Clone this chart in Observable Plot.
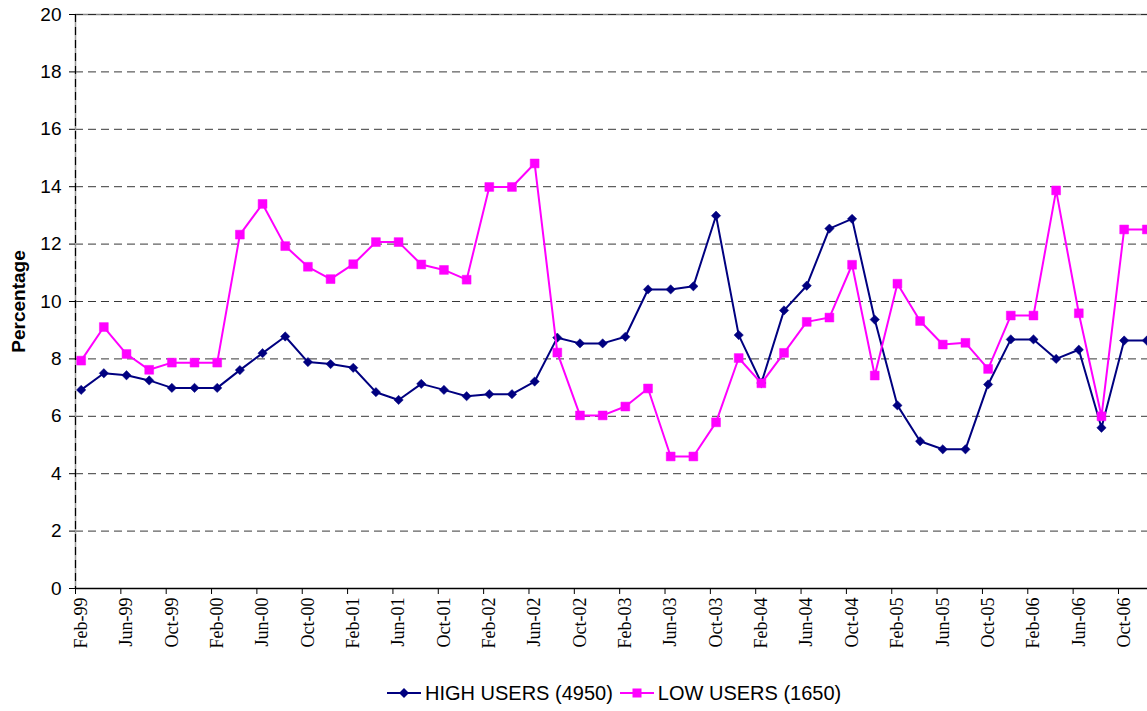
<!DOCTYPE html>
<html>
<head>
<meta charset="utf-8">
<script src="https://cdn.jsdelivr.net/npm/d3@7"></script>
<script src="https://cdn.jsdelivr.net/npm/@observablehq/plot@0.6"></script>
<style>
html, body { margin: 0; padding: 0; background: #fff; overflow: hidden; }
#wrap { position: relative; width: 1147px; height: 711px; overflow: hidden; }
#chart { width: 1160px; }
#chart svg { max-width: none !important; width: 1160px; height: 665px; display: block; }
#legend { position: absolute; left: 387px; top: 681px; display: flex; align-items: center;
  font-family: "Liberation Sans", Arial, sans-serif; font-size: 20px; line-height: 24px; color: #000; white-space: nowrap; }
#legend .item { display: flex; align-items: center; }
#legend svg { display: block; }
</style>
</head>
<body>
<div id="wrap"><div id="chart"></div><div id="legend"></div></div>
<script>
const months = [
  "Feb-99","Apr-99","Jun-99","Aug-99","Oct-99","Dec-99",
  "Feb-00","Apr-00","Jun-00","Aug-00","Oct-00","Dec-00",
  "Feb-01","Apr-01","Jun-01","Aug-01","Oct-01","Dec-01",
  "Feb-02","Apr-02","Jun-02","Aug-02","Oct-02","Dec-02",
  "Feb-03","Apr-03","Jun-03","Aug-03","Oct-03","Dec-03",
  "Feb-04","Apr-04","Jun-04","Aug-04","Oct-04","Dec-04",
  "Feb-05","Apr-05","Jun-05","Aug-05","Oct-05","Dec-05",
  "Feb-06","Apr-06","Jun-06","Aug-06","Oct-06","Dec-06"
];
const highUsers = [
  6.92, 7.50, 7.43, 7.25, 6.99, 6.99,
  6.99, 7.61, 8.20, 8.78, 7.89, 7.82,
  7.69, 6.84, 6.57, 7.13, 6.92, 6.70,
  6.77, 6.77, 7.21, 8.74, 8.54, 8.54,
  8.77, 10.42, 10.42, 10.53, 12.99, 8.83,
  7.16, 9.69, 10.55, 12.54, 12.88, 9.37,
  6.38, 5.13, 4.85, 4.85, 7.11, 8.68,
  8.68, 8.00, 8.32, 5.60, 8.64, 8.64
];
const lowUsers = [
  7.94, 9.11, 8.17, 7.62, 7.87, 7.87,
  7.87, 12.33, 13.40, 11.93, 11.21, 10.78,
  11.30, 12.07, 12.07, 11.29, 11.10, 10.76,
  13.99, 13.99, 14.81, 8.22, 6.03, 6.03,
  6.34, 6.97, 4.60, 4.60, 5.79, 8.03,
  7.15, 8.21, 9.29, 9.44, 11.28, 7.42,
  10.62, 9.32, 8.50, 8.56, 7.65, 9.51,
  9.51, 13.87, 9.59, 6.00, 12.51, 12.51
];
const tickLabels = [
  "Feb-99","Jun-99","Oct-99","Feb-00","Jun-00","Oct-00",
  "Feb-01","Jun-01","Oct-01","Feb-02","Jun-02","Oct-02",
  "Feb-03","Jun-03","Oct-03","Feb-04","Jun-04","Oct-04",
  "Feb-05","Jun-05","Oct-05","Feb-06","Jun-06","Oct-06"
];
const yTicks = [0, 2, 4, 6, 8, 10, 12, 14, 16, 18, 20];
const seriesNames = ["HIGH USERS (4950)", "LOW USERS (1650)"];
const seriesColors = ["#000080", "#FF00FF"];
const yLabel = "Percentage";

// month index (0 = start of Feb-99); points sit at month centres, bimonthly
const monthPos = i => i * 2 + 0.5;
const highRows = months.map((m, i) => ({m, t: monthPos(i), v: highUsers[i], s: seriesNames[0]}));
const lowRows = months.map((m, i) => ({m, t: monthPos(i), v: lowUsers[i], s: seriesNames[1]}));
const tickPos = tickLabels.map((d, i) => i * 4);

const sans = "'Liberation Sans', Arial, sans-serif";
const serif = "'Liberation Serif', 'Times New Roman', serif";

const chart = Plot.plot({
  width: 1160,
  height: 665,
  marginLeft: 75,
  marginRight: 8,
  marginTop: 14,
  marginBottom: 77,
  style: {fontFamily: sans, background: "#fff", overflow: "visible", maxWidth: "none"},
  x: {type: "linear", domain: [0, 95]},
  y: {domain: [0, 20]},
  color: {domain: seriesNames, range: seriesColors},
  marks: [
    Plot.ruleY([20], {stroke: "#888", strokeWidth: 1.5}),
    Plot.gridY(yTicks.filter(d => d > 0), {stroke: "#222", strokeOpacity: 0.9, strokeDasharray: "8,5", strokeWidth: 1}),
    Plot.ruleX([0], {stroke: "#999", strokeWidth: 1.5}),
    Plot.ruleX([0], {stroke: "#000", strokeDasharray: "8,5", strokeWidth: 1.2}),
    Plot.ruleY([0], {stroke: "#000", strokeWidth: 1.5}),
    Plot.axisY({ticks: yTicks, tickSize: 6, tickPadding: 8, fontSize: 19, fontFamily: sans, label: null, stroke: "#000", color: "#000"}),
    Plot.axisX({ticks: tickPos, tickSize: 6, tickFormat: () => "", label: null, stroke: "#000"}),
    Plot.text(tickLabels, {x: (d, i) => tickPos[i] + 0.5, frameAnchor: "bottom", dy: 9, rotate: -90,
      textAnchor: "end", lineAnchor: "middle", fontSize: 18, fontFamily: serif, fill: "#000"}),
    Plot.text([yLabel], {frameAnchor: "left", dx: -57, rotate: -90, textAnchor: "middle", lineAnchor: "middle",
      fontSize: 19, fontWeight: "bold", fontFamily: sans, fill: "#000"}),
    Plot.line(highRows, {x: "t", y: "v", stroke: "s", strokeWidth: 2}),
    Plot.dot(highRows, {x: "t", y: "v", fill: "s", stroke: "s", strokeWidth: 0.5, symbol: "diamond2", r: 4.2}),
    Plot.line(lowRows, {x: "t", y: "v", stroke: "s", strokeWidth: 2}),
    Plot.dot(lowRows, {x: "t", y: "v", fill: "s", stroke: "s", strokeWidth: 0.5, symbol: "square", r: 5.0})
  ]
});
document.getElementById("chart").appendChild(chart);

// legend
const legend = d3.select("#legend");
const symbols = [
  g => g.append("path").attr("d", "M17,1 L22,6 L17,11 L12,6 Z"),
  g => g.append("rect").attr("x", 12.5).attr("y", 1.5).attr("width", 9).attr("height", 9)
];
seriesNames.forEach((name, i) => {
  const item = legend.append("div").attr("class", "item").style("margin-left", i ? "7px" : "0px");
  const svg = item.append("svg").attr("width", 34).attr("height", 12);
  svg.append("line").attr("x1", 0).attr("x2", 34).attr("y1", 6).attr("y2", 6)
    .attr("stroke", seriesColors[i]).attr("stroke-width", 2);
  const g = svg.append("g").attr("fill", seriesColors[i]);
  symbols[i](g);
  item.append("span").style("margin-left", "4px").text(name);
});
</script>
</body>
</html>
